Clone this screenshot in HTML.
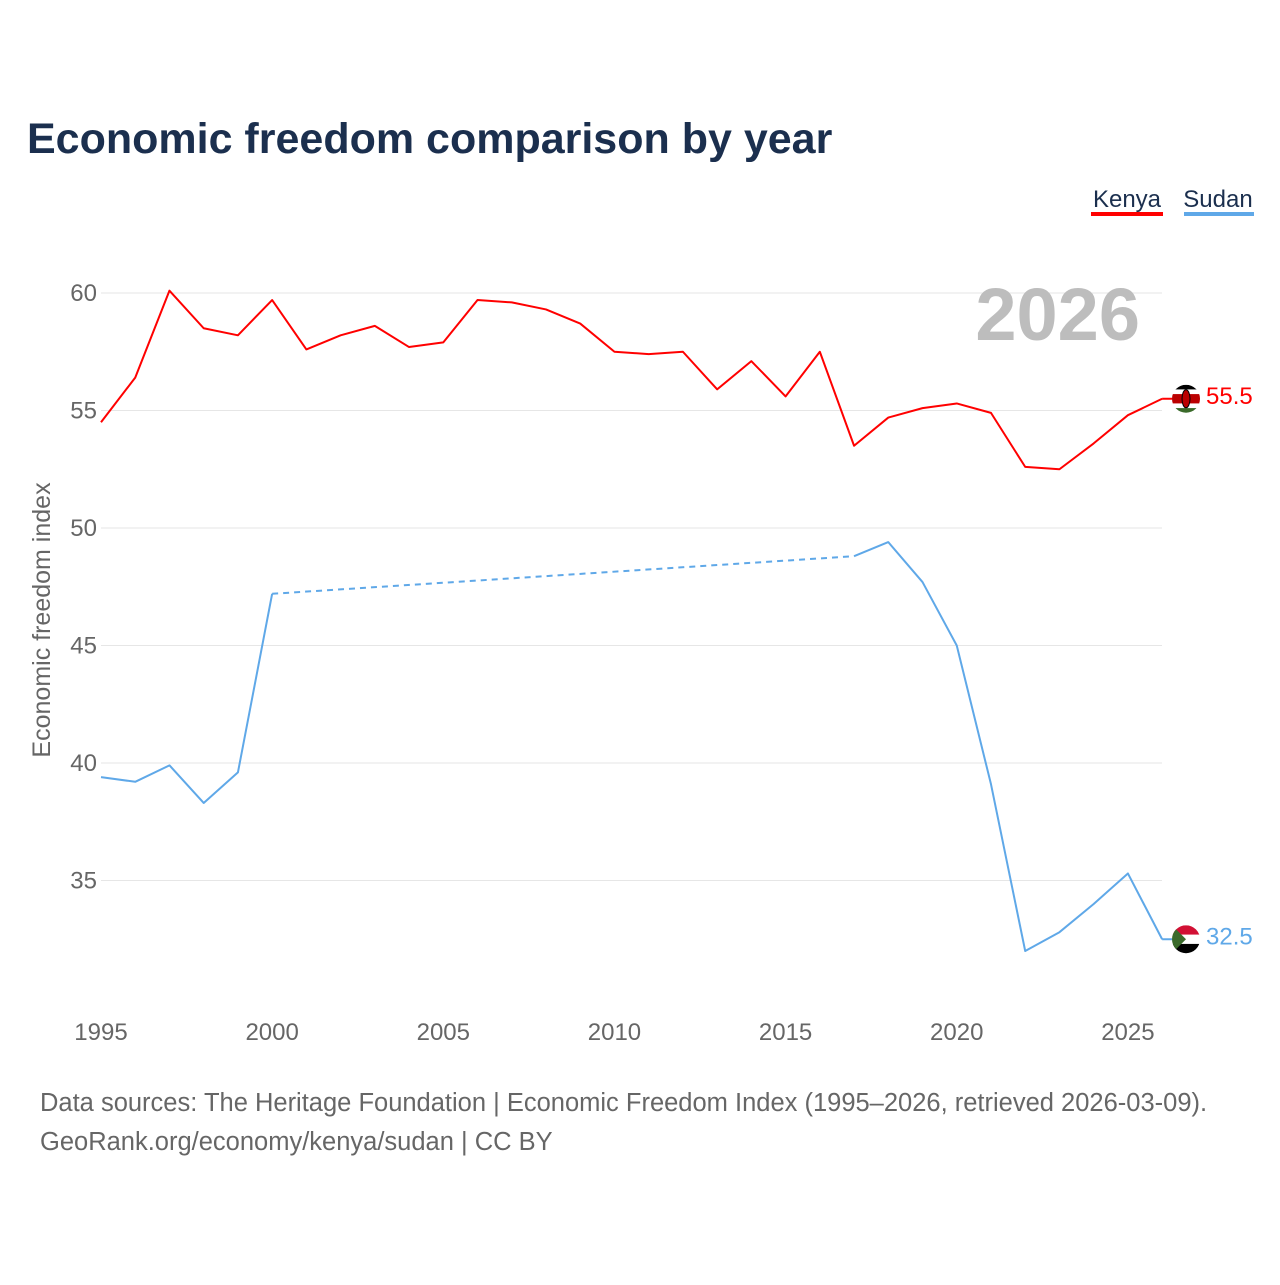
<!DOCTYPE html>
<html><head><meta charset="utf-8"><style>
body{margin:0;background:#fff;font-family:"Liberation Sans",sans-serif}
svg text{font-family:"Liberation Sans",sans-serif}
</style></head><body>
<svg width="1280" height="1280" xmlns="http://www.w3.org/2000/svg">
<rect width="1280" height="1280" fill="#fff"/>
<text x="27" y="153" font-size="43" font-weight="bold" fill="#1b2f4e">Economic freedom comparison by year</text>
<g>
<text x="1127" y="207" font-size="24" fill="#1b2f4e" text-anchor="middle">Kenya</text>
<rect x="1091" y="212" width="72" height="4" fill="#ff0000"/>
<text x="1218" y="207" font-size="24" fill="#1b2f4e" text-anchor="middle">Sudan</text>
<rect x="1184" y="212" width="70" height="4" fill="#5fa8e8"/>
</g>
<g id="grid"></g>
<text x="1140" y="340" font-size="74" font-weight="bold" fill="#bdbdbd" text-anchor="end">2026</text>
<g id="plot"></g>
<text transform="translate(50,620) rotate(-90)" font-size="25" fill="#666" text-anchor="middle">Economic freedom index</text>
<text x="40" y="1111" font-size="25.5" fill="#666">Data sources: The Heritage Foundation | Economic Freedom Index (1995–2026, retrieved 2026-03-09).</text>
<text x="40" y="1150" font-size="25.5" fill="#666">GeoRank.org/economy/kenya/sudan | CC BY</text>
</svg>
<script>
const years=[1995,1996,1997,1998,1999,2000,2001,2002,2003,2004,2005,2006,2007,2008,2009,2010,2011,2012,2013,2014,2015,2016,2017,2018,2019,2020,2021,2022,2023,2024,2025,2026];
const kenya=[54.5,56.4,60.1,58.5,58.2,59.7,57.6,58.2,58.6,57.7,57.9,59.7,59.6,59.3,58.7,57.5,57.4,57.5,55.9,57.1,55.6,57.5,53.5,54.7,55.1,55.3,54.9,52.6,52.5,53.6,54.8,55.5];
const sudan=[39.4,39.2,39.9,38.3,39.6,47.2,null,null,null,null,null,null,null,null,null,null,null,null,null,null,null,null,48.8,49.4,47.7,45.0,39.1,32.0,32.8,34.0,35.3,32.5];
const yTicks=[35,40,45,50,55,60];
const xTicks=[1995,2000,2005,2010,2015,2020,2025];
const NS="http://www.w3.org/2000/svg";
const X=y=>101+(y-1995)*34.23;
const Y=v=>293+(60-v)*23.5;
function mk(tag,attrs,parent){const e=document.createElementNS(NS,tag);for(const k in attrs)e.setAttribute(k,attrs[k]);parent.appendChild(e);return e;}
const grid=document.getElementById('grid'),plot=document.getElementById('plot');
yTicks.forEach(v=>{
 const l=mk('line',{x1:101,x2:1162,y1:Y(v),y2:Y(v),stroke:'#e6e6e6','stroke-width':1},grid);
 
 
 const t=mk('text',{x:97,y:Y(v)+8,'font-size':24,fill:'#666','text-anchor':'end'},grid);
 t.textContent=v;
 
 
});
xTicks.forEach(v=>{
 const t=mk('text',{x:X(v),y:1040,'font-size':24,fill:'#666','text-anchor':'middle'},grid);
 t.textContent=v;
 
 
});
function series(vals,color,name){
 let segs=[],cur=[],gaps=[],last=null;
 vals.forEach((v,i)=>{
  if(v==null){if(cur.length){segs.push(cur);cur=[];}}
  else{
   if(last!=null && last!==i-1)gaps.push([last,i]);
   cur.push([X(years[i]),Y(v)]);last=i;
  }
 });
 if(cur.length)segs.push(cur);
 segs.forEach(s=>{
  const p=mk('polyline',{points:s.map(q=>q.join(',')).join(' '),fill:'none',stroke:color,'stroke-width':2,'stroke-linejoin':'round'},plot);
  
  
 });
 gaps.forEach(g=>{
  const d=mk('line',{x1:X(years[g[0]]),y1:Y(vals[g[0]]),x2:X(years[g[1]]),y2:Y(vals[g[1]]),stroke:color,'stroke-width':2,'stroke-dasharray':'6,5'},plot);
  
  
 });
 const li=vals.length-1,lx=X(years[li]),ly=Y(vals[li]);
 const c=mk('line',{x1:lx,y1:ly,x2:1172,y2:ly,stroke:color,'stroke-width':2},plot);
 
 
 const t=mk('text',{x:1206,y:ly+5,'font-size':24,fill:color},plot);
 t.textContent=vals[li].toFixed(1);
 
 
 return ly;
}
const ky=series(kenya,'#ff0000','kenya');
const sy=series(sudan,'#5fa8e8','sudan');
function flag(cy,name,stripes,tri){
 const g=mk('g',{},plot);
 
 
 const id='clip'+name;
 const cp=mk('clipPath',{id:id},g);mk('circle',{cx:1186,cy:cy,r:14},cp);
 const inner=mk('g',{'clip-path':'url(#'+id+')'},g);
 const h=28/stripes.length;
 stripes.forEach((c,i)=>mk('rect',{x:1172,y:cy-14+i*h,width:28,height:h+0.5,fill:c},inner));
 if(tri)mk('polygon',{points:`1172,${cy-14} 1186,${cy} 1172,${cy+14}`,fill:tri},inner);
 return inner;
}
const kf=flag(ky,'kenya',['#000','#fff','#b00','#b00','#fff','#3a6a2a'],null);
mk('ellipse',{cx:1186,cy:ky,rx:4,ry:9,fill:'#b00',stroke:'#000','stroke-width':1},kf);
flag(sy,'sudan',['#d21034','#fff','#000'],'#3a6a2a');
</script>
</body></html>
